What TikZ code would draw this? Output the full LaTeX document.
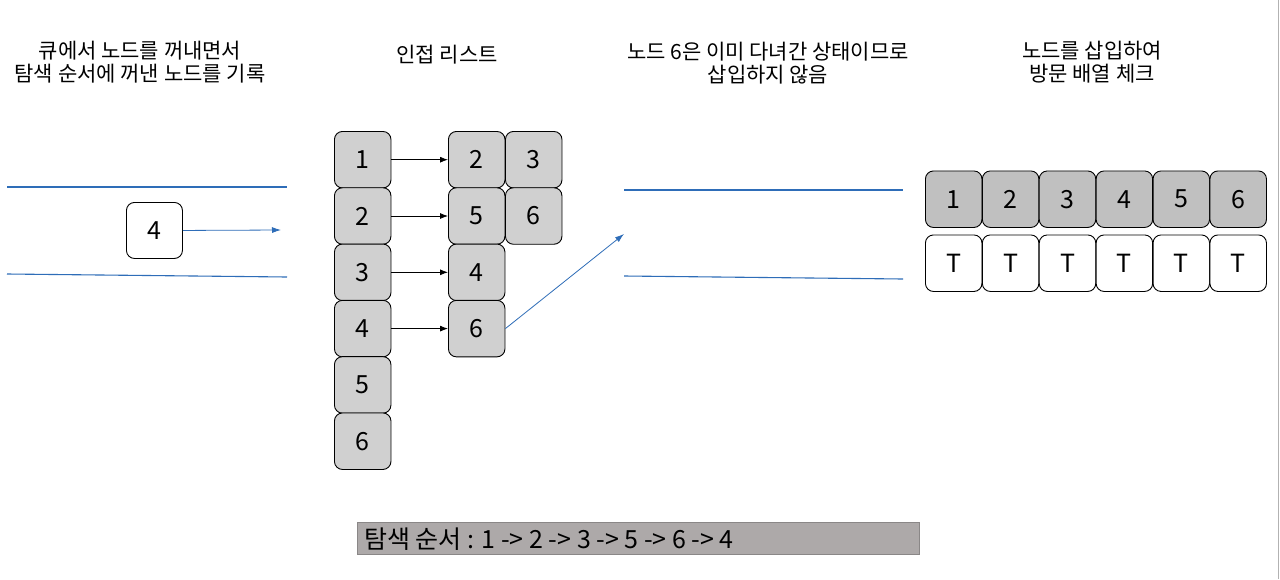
\documentclass[tikz,border=0pt]{standalone}
\usepackage{fontspec}
\setmainfont{Noto Sans CJK KR}
\usetikzlibrary{arrows.meta}
\definecolor{lgray}{HTML}{D0D0D0}
\definecolor{mgray}{HTML}{C0C0C0}
\definecolor{bargray}{HTML}{ADA9A9}
\definecolor{lblue}{HTML}{2E6DB8}
\tikzset{
  cell/.style={draw=black, line width=0.9pt, rounded corners=8pt, minimum width=56.5pt, minimum height=56.5pt, inner sep=0pt, font=\fontsize{25}{25}\selectfont, anchor=north west},
  gcell/.style={cell, fill=lgray},
  acell/.style={cell, fill=mgray},
  wcell/.style={cell, fill=white},
  title/.style={align=center, font=\fontsize{21}{23}\selectfont},
  bline/.style={draw=lblue, line width=1.1pt},
  barrow/.style={draw=lblue, line width=0.8pt, -{Latex[length=9pt,width=6pt]}},
  karrow/.style={draw=black, line width=0.8pt, -{Latex[length=8pt,width=6pt]}}
}
\begin{document}
\begin{tikzpicture}[x=1pt,y=-1pt]
\useasboundingbox (0,0) rectangle (1280,579);
\fill[white] (0,0) rectangle (1280,579);
\draw[gray!60, line width=1pt] (1278.5,0) -- (1278.5,579);

% titles
\node[title] (t1) at (140,62) {큐에서 노드를 꺼내면서\\탐색 순서에 꺼낸 노드를 기록};
\node[title] (t2) at (447,55) {인접 리스트};
\node[title] (t3) at (768,63) {노드 6은 이미 다녀간 상태이므로\\삽입하지 않음};
\node[title] (t4) at (1092,62) {노드를 삽입하여\\방문 배열 체크};

% left queue
\coordinate (q1a) at (7,187);
\coordinate (q1b) at (287,187);
\coordinate (q2a) at (7,274);
\coordinate (q2b) at (287,277);
\draw[bline] (q1a) -- (q1b);
\draw[bline] (q2a) -- (q2b);
\node[wcell, minimum width=56pt, minimum height=56pt] (q4) at (126,202) {4};
\coordinate (qend) at (281,230);
\draw[barrow] (q4.east) -- (qend);

% adjacency list
\node[gcell] (a1) at (334,131) {1};
\node[gcell] (a2) at (334,187.3) {2};
\node[gcell] (a3) at (334,243.6) {3};
\node[gcell] (a4) at (334,299.9) {4};
\node[gcell] (a5) at (334,356.2) {5};
\node[gcell] (a6) at (334,412.5) {6};

\node[gcell] (b1) at (448,131) {2};
\node[gcell] (c1) at (505,131) {3};
\node[gcell] (b2) at (448,187.3) {5};
\node[gcell] (c2) at (505,187.3) {6};
\node[gcell] (b3) at (448,243.6) {4};
\node[gcell] (b4) at (448,299.9) {6};

\draw[karrow] (a1.east) -- (b1.west);
\draw[karrow] (a2.east) -- (b2.west);
\draw[karrow] (a3.east) -- (b3.west);
\draw[karrow] (a4.east) -- (b4.west);

% second queue
\coordinate (r1a) at (624,190);
\coordinate (r1b) at (903,190);
\coordinate (r2a) at (624,276);
\coordinate (r2b) at (903,279);
\draw[bline] (r1a) -- (r1b);
\draw[bline] (r2a) -- (r2b);
\coordinate (rend) at (624,234);
\draw[barrow] (b4.east) -- (rend);

% visited array
\foreach \i in {1,...,6} {
  \node[acell] (v\i) at ({925+(\i-1)*56.9},170.5) {\i};
  \node[wcell] (w\i) at ({925+(\i-1)*56.9},234.5) {T};
}

% bottom bar
\node[fill=bargray, draw=bargray!80!black, line width=0.3pt, minimum width=562pt, minimum height=32pt, anchor=north west, inner sep=0pt] (bar) at (357,522) {};
\node[anchor=west, font=\fontsize{25}{25}\selectfont, inner sep=0pt] (bt) at (364,539) {탐색 순서 : 1 -> 2 -> 3 -> 5 -> 6 -> 4};
\end{tikzpicture}
\end{document}
